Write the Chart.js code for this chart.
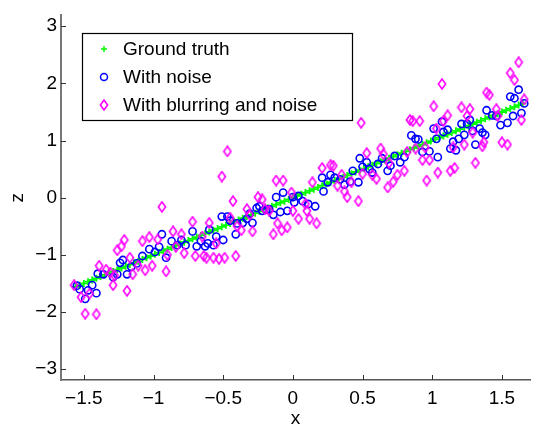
<!DOCTYPE html>
<html>
<head>
<meta charset="utf-8">
<script src="https://cdn.jsdelivr.net/npm/chart.js@4/dist/chart.umd.min.js"></script>
<style>
  body { margin: 0; background: #fff; }
  canvas { display: block; }
</style>
</head>
<body>
<canvas id="chart1" width="536" height="424"></canvas>
<script>
// data

var xTicks = [-1.5, -1, -0.5, 0, 0.5, 1, 1.5];
var yTicks = [-3, -2, -1, 0, 1, 2, 3];

var seriesNames = ['Ground truth', 'With noise', 'With blurring and noise'];

var truthX = [-1.56, -1.53, -1.50, -1.47, -1.44, -1.41, -1.38, -1.35, -1.32, -1.29, -1.26, -1.23, -1.20, -1.17,
  -1.14, -1.11, -1.08, -1.05, -1.02, -0.99, -0.96, -0.93, -0.90, -0.87, -0.84, -0.81, -0.78, -0.75, -0.72, -0.69,
  -0.66, -0.63, -0.60, -0.57, -0.54, -0.51, -0.48, -0.45, -0.42, -0.39, -0.36, -0.33, -0.30, -0.27, -0.24, -0.21,
  -0.18, -0.15, -0.12, -0.09, -0.06, -0.03, 0, 0.03, 0.06, 0.09, 0.12, 0.15, 0.18, 0.21, 0.24, 0.27, 0.30, 0.33,
  0.36, 0.39, 0.42, 0.45, 0.48, 0.51, 0.54, 0.57, 0.60, 0.63, 0.66, 0.69, 0.72, 0.75, 0.78, 0.81, 0.84, 0.87,
  0.90, 0.93, 0.96, 0.99, 1.02, 1.05, 1.08, 1.11, 1.14, 1.17, 1.20, 1.23, 1.26, 1.29, 1.32, 1.35, 1.38, 1.41,
  1.44, 1.47, 1.50, 1.53, 1.56, 1.59, 1.62, 1.65];
var truthZ = [-1.56, -1.53, -1.50, -1.47, -1.44, -1.41, -1.38, -1.35, -1.32, -1.29, -1.26, -1.23, -1.20, -1.17,
  -1.14, -1.11, -1.08, -1.05, -1.02, -0.99, -0.96, -0.93, -0.90, -0.87, -0.84, -0.81, -0.78, -0.75, -0.72, -0.69,
  -0.66, -0.63, -0.60, -0.57, -0.54, -0.51, -0.48, -0.45, -0.42, -0.39, -0.36, -0.33, -0.30, -0.27, -0.24, -0.21,
  -0.18, -0.15, -0.12, -0.09, -0.06, -0.03, 0, 0.03, 0.06, 0.09, 0.12, 0.15, 0.18, 0.21, 0.24, 0.27, 0.30, 0.33,
  0.36, 0.39, 0.42, 0.45, 0.48, 0.51, 0.54, 0.57, 0.60, 0.63, 0.66, 0.69, 0.72, 0.75, 0.78, 0.81, 0.84, 0.87,
  0.90, 0.93, 0.96, 0.99, 1.02, 1.05, 1.08, 1.11, 1.14, 1.17, 1.20, 1.23, 1.26, 1.29, 1.32, 1.35, 1.38, 1.41,
  1.44, 1.47, 1.50, 1.53, 1.56, 1.59, 1.62, 1.65];

var noiseX = [-1.55, -1.53, -1.49, -1.47, -1.44, -1.41, -1.40, -1.36, -1.29, -1.26, -1.24, -1.22, -1.19, -1.16,
  -1.12, -1.08, -1.03, -0.99, -0.96, -0.94, -0.91, -0.87, -0.83, -0.80, -0.77,
  -0.72, -0.69, -0.66, -0.63, -0.61, -0.60, -0.57, -0.55, -0.50, -0.51, -0.47, -0.45, -0.41, -0.40, -0.36, -0.33,
  -0.31, -0.29, -0.26, -0.24, -0.22, -0.19, -0.17, -0.14, -0.12, -0.09, -0.07, -0.04,
  0.00, 0.01, 0.04, 0.07, 0.11, 0.16, 0.22, 0.21, 0.25, 0.27, 0.30, 0.34, 0.37, 0.41, 0.43, 0.47, 0.48, 0.50,
  0.53, 0.55, 0.57, 0.61, 0.64, 0.68, 0.70, 0.73, 0.77, 0.80,
  0.85, 0.88, 0.90, 0.93, 0.98, 1.01, 1.03, 1.04, 1.07, 1.08, 1.11, 1.13, 1.15, 1.17, 1.19, 1.21, 1.23, 1.25,
  1.27, 1.29, 1.31, 1.34, 1.36, 1.38, 1.39, 1.43, 1.46, 1.49, 1.54, 1.56, 1.58, 1.59, 1.62, 1.64, 1.66];
var noiseZ = [-1.54, -1.60, -1.77, -1.62, -1.53, -1.67, -1.33, -1.34, -1.39, -1.34, -1.14, -1.09, -1.34, -1.21,
  -1.15, -1.02, -0.90, -0.95, -0.86, -0.64, -1.05, -0.76, -0.83, -0.74, -0.83,
  -0.59, -0.85, -0.76, -0.85, -0.80, -0.56, -0.83, -0.68, -0.74, -0.33, -0.33, -0.40, -0.64, -0.45, -0.44, -0.37,
  -0.28, -0.44, -0.18, -0.15, -0.23, -0.21, -0.20, -0.30, 0.01, -0.25, 0.09, -0.23,
  0.01, -0.08, 0.03, -0.06, -0.11, -0.15, 0.11, 0.35, 0.27, 0.40, 0.35, 0.32, 0.23, 0.28, 0.47, 0.27, 0.69, 0.54,
  0.62, 0.50, 0.44, 0.59, 0.69, 0.47, 0.56, 0.73, 0.62, 0.71,
  1.09, 1.03, 1.02, 0.80, 0.81, 1.21, 1.03, 0.71, 1.33, 1.15, 1.19, 0.86, 0.98, 0.83, 1.03, 1.29, 1.10, 1.29,
  1.36, 1.17, 0.93, 1.21, 1.14, 1.10, 1.53, 1.44, 1.43, 1.27, 1.31, 1.77, 1.43, 1.74, 1.89, 1.48, 1.65];

var blurX = [-1.57, -1.52, -1.49, -1.46, -1.41, -1.39, -1.34, -1.31, -1.29, -1.28, -1.26, -1.23, -1.21, -1.19,
  -1.17, -1.15, -1.11, -1.08, -1.06, -1.03, -1.01, -0.97, -0.94, -0.91, -0.90, -0.86, -0.84, -0.80, -0.78,
  -0.72, -0.70, -0.65, -0.64, -0.60, -0.62, -0.57, -0.55, -0.53, -0.49, -0.47, -0.51, -0.45, -0.43, -0.41, -0.40,
  -0.37, -0.33, -0.31, -0.29, -0.25, -0.22, -0.20, -0.17, -0.14, -0.12, -0.11, -0.08, -0.07, -0.04,
  -0.01, 0.00, 0.04, 0.09, 0.10, 0.12, 0.14, 0.17, 0.21, 0.27, 0.29, 0.32, 0.35, 0.37, 0.39, 0.42, 0.47, 0.49,
  0.53, 0.50, 0.57, 0.60, 0.63, 0.65, 0.68, 0.69, 0.72, 0.75,
  0.80, 0.82, 0.84, 0.86, 0.88, 0.91, 0.93, 0.95, 0.96, 0.98, 1.01, 1.03, 1.04, 1.07, 1.08, 1.11, 1.13, 1.15,
  1.16, 1.21, 1.23, 1.25, 1.27, 1.29, 1.31, 1.36, 1.37, 1.39, 1.41, 1.46, 1.47, 1.50, 1.54, 1.56, 1.59, 1.62,
  1.64, 1.66];
var blurZ = [-1.53, -1.74, -2.03, -1.68, -2.04, -1.19, -1.26, -1.31, -1.53, -1.36, -0.92, -0.85, -0.74, -1.63,
  -1.05, -1.34, -1.19, -0.76, -1.27, -0.69, -1.19, -0.73, -0.16, -1.29, -1.00, -0.59, -0.86, -0.64, -0.97,
  -0.42, -1.02, -0.68, -1.02, -0.44, -1.05, -1.05, -0.80, -1.07, -1.05, 0.81, 0.37, -0.35, -0.06, -1.02, -0.50,
  -0.57, -0.20, -0.30, -0.59, 0.01, -0.03, -0.20, -0.23, -0.64, 0.30, -0.45, -0.57, 0.30, -0.52,
  0.09, -0.23, -0.37, -0.11, -0.23, -0.37, 0.27, -0.45, 0.52, 0.57, 0.56, 0.21, 0.40, 0.11, 0.01, 0.27, -0.06, 1.31,
  0.78, 0.42, 0.40, 0.33, 0.86, 0.76, 0.18, 0.61, 0.28, 0.40,
  0.47, 0.80, 1.36, 1.34, 0.86, 1.34, 0.66, 0.88, 0.30, 0.66, 1.60, 1.21, 0.44, 1.99, 1.34, 1.44, 0.47, 0.88,
  0.52, 1.58, 0.93, 1.43, 1.55, 1.14, 0.61, 0.90, 0.97, 1.84, 1.80, 1.55, 1.43, 0.97, 0.93, 2.18, 2.06, 2.37,
  1.36, 1.72];

function toPoints(xs, zs) {
  return xs.map(function (x, i) { return { x: x, y: zs[i] }; });
}

// matlab style diamond, a bit taller than wide
function diamondMarker() {
  var c = document.createElement('canvas');
  c.width = 10;
  c.height = 12;
  var g = c.getContext('2d');
  g.strokeStyle = '#ff00ff';
  g.lineWidth = 1.6;
  g.beginPath();
  g.moveTo(5, 1);
  g.lineTo(8.6, 6);
  g.lineTo(5, 11);
  g.lineTo(1.4, 6);
  g.closePath();
  g.stroke();
  return c;
}
var diamond = diamondMarker();

var font = 'Liberation Sans, Arial, Helvetica, sans-serif';

function minusLabel(v) {
  return String(v).replace('-', '\u2212');
}

// inward ticks and the boxed legend
var matlabBits = {
  id: 'matlabBits',
  afterDraw: function (chart) {
    var ctx = chart.ctx;
    var a = chart.chartArea;
    var xs = chart.scales.x;
    var ys = chart.scales.y;
    ctx.save();
    ctx.strokeStyle = '#333';
    ctx.lineWidth = 1;
    xTicks.forEach(function (v) {
      var px = Math.round(xs.getPixelForValue(v)) + 0.5;
      ctx.beginPath();
      ctx.moveTo(px, a.bottom);
      ctx.lineTo(px, a.bottom - 5);
      ctx.stroke();
    });
    yTicks.forEach(function (v) {
      var py = Math.round(ys.getPixelForValue(v)) + 0.5;
      ctx.beginPath();
      ctx.moveTo(a.left, py);
      ctx.lineTo(a.left + 5, py);
      ctx.stroke();
    });

    // legend box
    ctx.fillStyle = '#fff';
    ctx.fillRect(82, 33, 270, 87);
    ctx.strokeStyle = '#000';
    ctx.lineWidth = 1.2;
    ctx.strokeRect(82.5, 33.5, 270, 87);

    var rows = [49, 77, 105];
    var mx = 104;
    // cross
    ctx.strokeStyle = '#00ff00';
    ctx.lineWidth = 1.5;
    ctx.beginPath();
    ctx.moveTo(mx - 3, rows[0]);
    ctx.lineTo(mx + 3, rows[0]);
    ctx.moveTo(mx, rows[0] - 3);
    ctx.lineTo(mx, rows[0] + 3);
    ctx.stroke();
    // circle
    ctx.strokeStyle = '#0000ff';
    ctx.beginPath();
    ctx.arc(mx, rows[1], 3.5, 0, Math.PI * 2);
    ctx.stroke();
    // diamond
    ctx.drawImage(diamond, mx - 5, rows[2] - 6);

    ctx.fillStyle = '#000';
    ctx.font = '19px ' + font;
    ctx.textBaseline = 'middle';
    ctx.textAlign = 'left';
    seriesNames.forEach(function (name, i) {
      ctx.fillText(name, 123, rows[i] + 1);
    });
    ctx.restore();
  }
};

var ctx = document.getElementById('chart1').getContext('2d');
var chart = new Chart(ctx, {
  type: 'scatter',
  data: {
    datasets: [{
      label: seriesNames[0],
      data: toPoints(truthX, truthZ),
      pointStyle: 'cross',
      pointRadius: 3.5,
      borderColor: '#00ff00',
      backgroundColor: '#00ff00',
      borderWidth: 1.8,
      order: 3
    }, {
      label: seriesNames[1],
      data: toPoints(noiseX, noiseZ),
      pointStyle: 'circle',
      pointRadius: 3.6,
      borderColor: '#0000ff',
      backgroundColor: 'rgba(0,0,0,0)',
      borderWidth: 1.6,
      order: 2
    }, {
      label: seriesNames[2],
      data: toPoints(blurX, blurZ),
      pointStyle: diamond,
      borderColor: '#ff00ff',
      order: 1
    }]
  },
  options: {
    responsive: false,
    animation: false,
    layout: {
      padding: { left: 0, right: 0, top: 7, bottom: 0 }
    },
    plugins: {
      legend: { display: false },
      tooltip: { enabled: false }
    },
    scales: {
      x: {
        type: 'linear',
        min: -1.664,
        max: 1.703,
        afterBuildTicks: function (scale) {
          scale.ticks = xTicks.map(function (v) { return { value: v }; });
        },
        afterFit: function (scale) { scale.height = 44; },
        grid: { display: true, drawOnChartArea: false, drawTicks: false },
        border: { display: true, color: '#555', width: 1.5 },
        ticks: {
          color: '#000',
          padding: 7,
          maxRotation: 0,
          font: { family: font, size: 19 },
          callback: function (v) { return minusLabel(v); }
        },
        title: {
          display: true,
          text: 'x',
          color: '#000',
          padding: { top: 0, bottom: -4 },
          font: { family: font, size: 19, lineHeight: 1 }
        }
      },
      y: {
        type: 'linear',
        min: -3.19,
        max: 3.19,
        afterBuildTicks: function (scale) {
          scale.ticks = yTicks.map(function (v) { return { value: v }; });
        },
        afterFit: function (scale) { scale.width = 61; },
        grid: { display: true, drawOnChartArea: false, drawTicks: false },
        border: { display: true, color: '#777', width: 2 },
        ticks: {
          color: '#000',
          padding: 4,
          font: { family: font, size: 19 },
          callback: function (v) { return minusLabel(v); }
        },
        title: {
          display: true,
          text: 'z',
          color: '#000',
          padding: { top: 8, bottom: 0 },
          font: { family: font, size: 19, lineHeight: 1 }
        }
      }
    }
  },
  plugins: [matlabBits]
});
</script>
</body>
</html>
